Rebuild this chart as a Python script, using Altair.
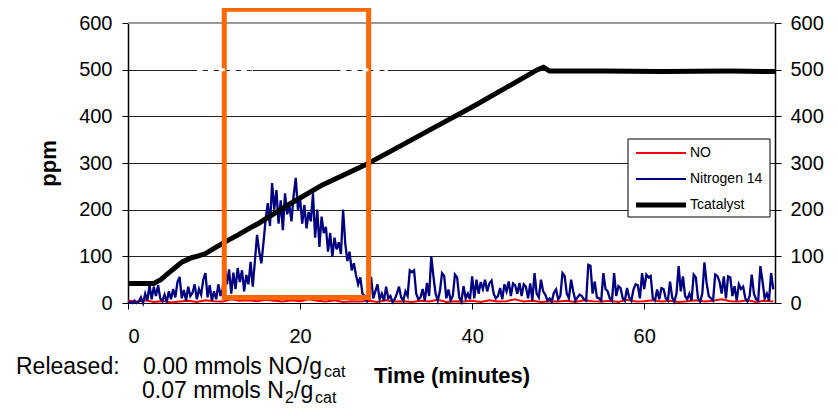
import altair as alt
import numpy as np
import pandas as pd

FONT = "Liberation Sans"

SERIES = ["NO", "Nitrogen 14", "Tcatalyst"]
COLORS = ["#ff0000", "#000080", "#000000"]
WIDTHS = [2, 2.3, 5]

X_TICKS = [0, 20, 40, 60]
Y_TICKS = [0, 100, 200, 300, 400, 500, 600]

# Nitrogen 14 (ppm), one reading every 0.25 min from 0 to 75 min
N14_STEP = 0.25
N14 = [
    0, 2, 0, 5, 0, 3, 12, 0, 20, 5, 38, 8, 35, 15, 38, 10, 4, 18, 2, 25,            # 0-5
    8, 30, 12, 45, 56, 10, 28, 5, 35, 15, 22, 40, 8, 30, 18, 50, 64, 12, 38, 5,     # 5-10
    25, 8, 40, 15, 30, 75, 40, 72, 20, 65, 30, 75, 45, 70, 25, 60, 40, 88, 35, 90,  # 10-15
    146, 110, 85, 130, 180, 214, 165, 257, 200, 242, 170, 220, 156, 235, 190, 210, 175, 230, 268, 200,  # 15-20
    225, 170, 210, 160, 195, 175, 235, 140, 200, 120, 185, 150, 163, 110, 150, 99, 140, 115, 130, 105,  # 20-25
    200, 128, 90, 110, 70, 85, 60, 40, 55, 20, 15, 5, 30, 56, 10, 25, 40, 8, 20, 5,                  # 25-30
    35, 10, 15, 2, 8, 20, 35, 12, 5, 25, 15, 70, 66, 70, 20, 8, 12, 30, 5, 43,      # 30-35
    15, 100, 57, 20, 5, 25, 64, 58, 10, 29, 6, 15, 61, 55, 12, 3, 36, 10, 20, 8,    # 35-40
    57, 10, 50, 20, 45, 30, 50, 25, 42, 48, 20, 10, 15, 32, 8, 40, 25, 46, 15, 42,  # 40-45
    38, 20, 43, 15, 40, 35, 10, 42, 5, 64, 20, 12, 50, 25, 18, 5, 10, 3, 22, 29,    # 45-50
    8, 15, 64, 58, 20, 10, 50, 25, 5, 12, 18, 15, 8, 5, 82, 80, 20, 46, 12, 10,     # 50-55
    5, 64, 30, 25, 10, 5, 64, 15, 36, 32, 10, 5, 32, 12, 5, 29, 40, 38, 10, 64,     # 55-60
    30, 61, 55, 58, 10, 5, 29, 8, 32, 30, 10, 5, 46, 12, 3, 20, 79, 25, 57, 15,     # 60-65
    8, 20, 5, 61, 55, 10, 3, 20, 87, 43, 15, 10, 5, 61, 58, 46, 20, 57, 10, 57,     # 65-70
    55, 15, 36, 5, 40, 30, 35, 10, 3, 15, 61, 20, 8, 5, 79, 46, 10, 20, 5, 64,      # 70-75
    29,
]

# NO (ppm), one reading per minute
NO_STEP = 1.0
NO = [5, 3, 6, 2, 4, 1, 3, 5, 2, 6, 4, 3, 8, 5, 6, 4, 7, 5, 3, 6,
      4, 8, 5, 3, 6, 2, 4, 3, 5, 2, 6, 3, 4, 2, 5, 3, 7, 2, 4, 3,
      5, 2, 6, 3, 4, 8, 3, 5, 2, 4, 3, 5, 2, 6, 4, 3, 5, 2, 7, 3,
      4, 6, 3, 5, 2, 4, 6, 3, 5, 8, 4, 3, 6, 2, 5, 3]

# Tcatalyst
T_TIME = [0, 3.0, 3.8, 4.7, 5.5, 6.3, 7.4, 8.2, 9.0, 10.1, 11.3, 12.8, 14.4, 15.3,
          18.6, 22.6, 27.6, 32, 36, 40, 44, 47.6, 48.3, 49.0, 55, 62, 70, 75.2]
T_VAL = [42, 42, 50, 64, 76, 88, 97, 101, 106, 118, 131, 146, 163, 172,
         210, 253, 296, 340, 380, 420, 462, 500, 505, 497, 497, 496, 497, 496]

# highlighted window (orange box)
BOX_T = [11.19, 27.97]
BOX_Y = [11.8, 629.6]

W, H = 647, 280
XMAX = 75.2

df_n14 = pd.DataFrame({"t": np.arange(len(N14)) * N14_STEP, "v": N14, "series": SERIES[1]})
df_no = pd.DataFrame({"t": np.arange(len(NO)) * NO_STEP, "v": NO, "series": SERIES[0]})
df_t = pd.DataFrame({"t": T_TIME, "v": T_VAL, "series": SERIES[2]})

xscale = alt.Scale(domain=[0, XMAX], nice=False, zero=False)
yscale = alt.Scale(domain=[0, 600], nice=False)
cscale = alt.Scale(domain=SERIES, range=COLORS)

xaxis = alt.Axis(values=X_TICKS, title="Time (minutes)", grid=False,
                 domainColor="black", domainWidth=1, tickColor="black", tickSize=6,
                 labelFontSize=20, labelPadding=17, labelColor="black", labelFont=FONT,
                 titleFontSize=22, titleFontWeight="bold", titlePadding=19,
                 titleColor="black", titleFont=FONT)
yaxis_left = alt.Axis(values=Y_TICKS, title="ppm", orient="left", grid=True,
                      gridColor="#222222", gridWidth=1,
                      domainColor="black", domainWidth=1.5, tickColor="black", tickSize=6,
                      labelFontSize=20, labelPadding=10, labelColor="black", labelFont=FONT,
                      titleFontSize=22, titleFontWeight="bold", titlePadding=18,
                      titleColor="black", titleFont=FONT)
yaxis_right = alt.Axis(values=Y_TICKS, title=None, orient="right", grid=False,
                       domainColor="black", domainWidth=1.5, tickColor="black", tickSize=6,
                       labelFontSize=20, labelPadding=9, labelColor="black", labelFont=FONT)

X = alt.X("t:Q", scale=xscale, axis=xaxis, title="Time (minutes)")
color = alt.Color("series:N", scale=cscale, legend=None)

no_line = alt.Chart(df_no).mark_line(strokeWidth=WIDTHS[0]).encode(
    x=X, y=alt.Y("v:Q", scale=yscale, axis=yaxis_left), color=color)
n14_line = alt.Chart(df_n14).mark_line(strokeWidth=WIDTHS[1]).encode(
    x=X, y=alt.Y("v:Q", scale=yscale, axis=None), color=color)
t_line = alt.Chart(df_t).mark_line(strokeWidth=WIDTHS[2]).encode(
    x=X, y=alt.Y("v:Q", scale=yscale, axis=yaxis_right), color=color)

top_rule = alt.Chart(pd.DataFrame({"y": [600]})).mark_rule(
    color="#999999", strokeWidth=2).encode(y=alt.Y("y:Q", scale=yscale, axis=None))

white_dash = alt.Chart(pd.DataFrame({"t0": [8.0, 24.7], "t1": [14.5, 30.2], "y": [500, 500]})).mark_rule(
    color="white", strokeWidth=3, strokeDash=[6, 5]).encode(
    x=alt.X("t0:Q", scale=xscale, axis=xaxis), x2="t1:Q",
    y=alt.Y("y:Q", scale=yscale, axis=None))

box = alt.Chart(pd.DataFrame({"t0": [BOX_T[0]], "t1": [BOX_T[1]], "y0": [BOX_Y[0]], "y1": [BOX_Y[1]]})).mark_rect(
    filled=False, stroke="#ff6600", strokeWidth=5).encode(
    x=alt.X("t0:Q", scale=xscale, axis=xaxis), x2="t1:Q",
    y=alt.Y("y0:Q", scale=yscale, axis=None), y2="y1:Q")

one = pd.DataFrame({"a": [0]})

# legend (manual, to match the boxed Excel legend)
LEG_X0, LEG_X1, LEG_Y0, LEG_Y1 = 500, 642, 116, 194
LEG_ROWS = [130, 156, 182]
legend_layers = [alt.Chart(one).mark_rect(fill="white", stroke="black", strokeWidth=1).encode(
    x=alt.value(LEG_X0), x2=alt.value(LEG_X1), y=alt.value(LEG_Y0), y2=alt.value(LEG_Y1))]
for name, col, w, ry in zip(SERIES, COLORS, WIDTHS, LEG_ROWS):
    legend_layers.append(alt.Chart(one).mark_rule(color=col, strokeWidth=min(w, 2) if w < 5 else w).encode(
        x=alt.value(508), x2=alt.value(558), y=alt.value(ry)))
    legend_layers.append(alt.Chart(one).mark_text(
        align="left", baseline="middle", font=FONT, fontSize=14, color="black").encode(
        x=alt.value(562), y=alt.value(ry), text=alt.value(name)))

# "Released" annotation
NOTES = [
    ("Released:", -112, 351, 23),
    ("0.00 mmols NO/g", 15, 351, 23),
    ("cat", 196, 354, 16),
    ("0.07 mmols N", 14, 375, 23),
    ("2", 157, 380, 16),
    ("/g", 166, 375, 23),
    ("cat", 187, 380, 16),
]
note_layers = [alt.Chart(one).mark_text(
    align="left", baseline="alphabetic", font=FONT, fontSize=fs, color="black").encode(
    x=alt.value(px), y=alt.value(py), text=alt.value(txt)) for txt, px, py, fs in NOTES]

chart = alt.layer(
    no_line, n14_line, t_line, top_rule, box, white_dash, *legend_layers, *note_layers
).resolve_scale(y="independent").properties(
    width=W, height=H,
    autosize=alt.AutoSizeParams(type="none"),
    padding={"left": 120, "top": 15, "right": 55, "bottom": 105},
).configure_view(stroke=None).configure(background="white", font=FONT)

chart.save("out.html", embed_options={"renderer": "svg", "actions": False})
